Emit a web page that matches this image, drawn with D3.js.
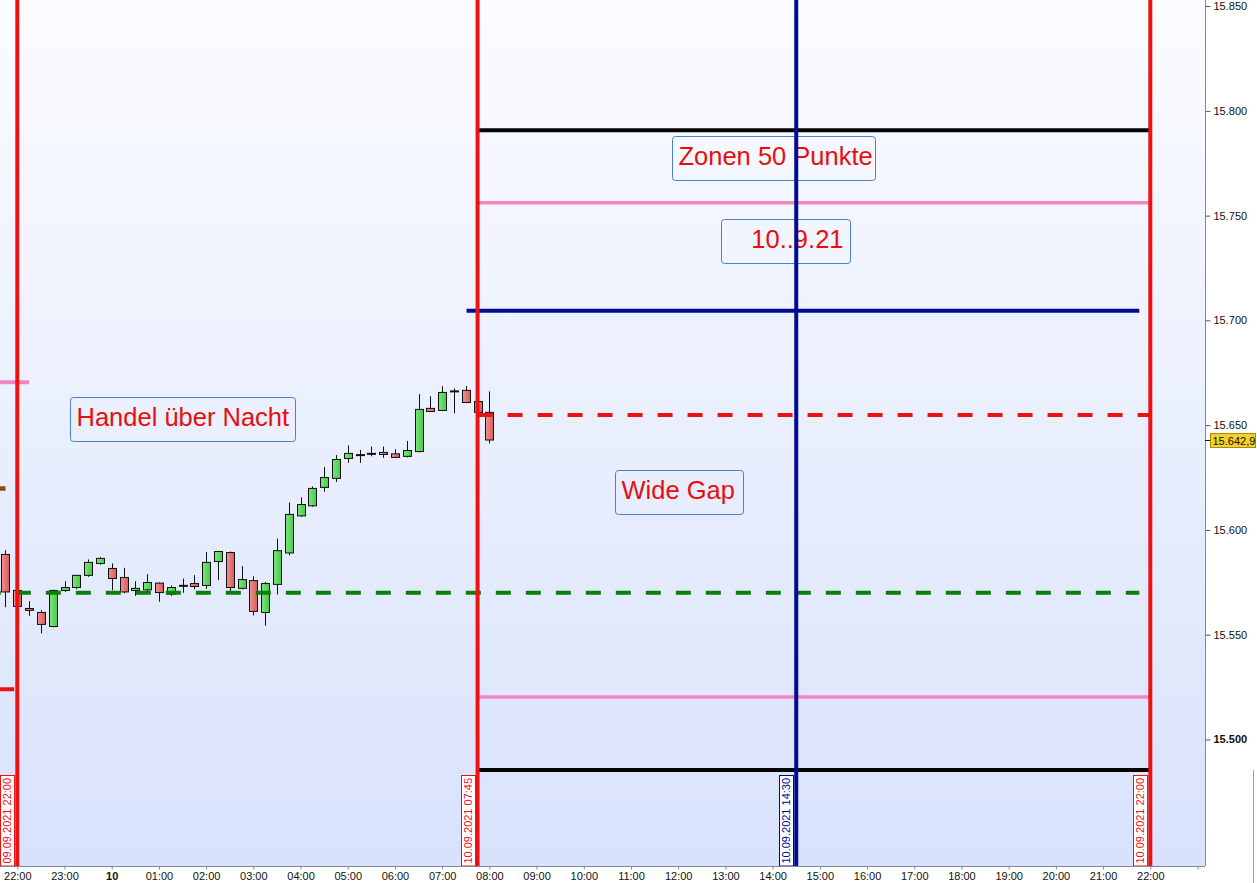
<!DOCTYPE html>
<html>
<head>
<meta charset="utf-8">
<script src="https://cdn.jsdelivr.net/npm/d3@7"></script>
<style>
	body { margin: 0; background: #fff; }
	svg { display: block; font-family: "Liberation Sans", Arial, sans-serif; }
</style>
</head>
<body>
<svg id="chart"></svg>
<script>
// 15 min candles, FDAX night session 09.09. -> 10.09.2021
const candleTimes = [
	"09.09.2021 21:45", "09.09.2021 22:00", "09.09.2021 22:15", "09.09.2021 22:30", "09.09.2021 22:45",
	"09.09.2021 23:00", "09.09.2021 23:15", "09.09.2021 23:30", "09.09.2021 23:45",
	"10.09.2021 00:00", "10.09.2021 00:15", "10.09.2021 00:30", "10.09.2021 00:45",
	"10.09.2021 01:00", "10.09.2021 01:15", "10.09.2021 01:30", "10.09.2021 01:45",
	"10.09.2021 02:00", "10.09.2021 02:15", "10.09.2021 02:30", "10.09.2021 02:45",
	"10.09.2021 03:00", "10.09.2021 03:15", "10.09.2021 03:30", "10.09.2021 03:45",
	"10.09.2021 04:00", "10.09.2021 04:15", "10.09.2021 04:30", "10.09.2021 04:45",
	"10.09.2021 05:00", "10.09.2021 05:15", "10.09.2021 05:30", "10.09.2021 05:45",
	"10.09.2021 06:00", "10.09.2021 06:15", "10.09.2021 06:30", "10.09.2021 06:45",
	"10.09.2021 07:00", "10.09.2021 07:15", "10.09.2021 07:30", "10.09.2021 07:45",
	"10.09.2021 08:00",
];
const opens = [
	15588.3, 15571.1, 15562.5, 15560.6, 15553.9, 15571.1, 15572.5, 15578.3, 15584.0,
	15581.6, 15577.3, 15571.1, 15571.4, 15574.6, 15569.3, 15573.3, 15574.4,
	15573.5, 15584.9, 15589.2, 15572.1, 15575.8, 15560.6, 15574.0, 15589.0,
	15606.7, 15611.5, 15620.3, 15624.6, 15634.1, 15635.7, 15636.3, 15637.0,
	15636.3, 15635.1, 15637.4, 15658.0, 15657.0, 15666.1, 15666.6, 15661.3,
	15656.1,
];
const highs = [
	15590.3, 15572.0, 15566.0, 15561.7, 15571.5, 15575.5, 15578.5, 15585.9, 15587.1,
	15584.0, 15581.9, 15575.5, 15578.9, 15575.0, 15573.5, 15576.8, 15578.4,
	15589.4, 15590.0, 15589.7, 15582.7, 15577.9, 15575.2, 15595.9, 15613.1,
	15615.6, 15620.7, 15630.0, 15635.7, 15640.3, 15638.1, 15639.8, 15639.8,
	15638.5, 15642.4, 15664.8, 15663.8, 15668.6, 15667.5, 15668.6, 15662.0,
	15666.1,
];
const lows = [
	15563.1, 15563.0, 15559.0, 15550.6, 15553.5, 15570.4, 15571.7, 15577.6, 15583.3,
	15571.2, 15569.7, 15568.5, 15570.4, 15565.7, 15568.5, 15570.0, 15571.6,
	15571.9, 15576.0, 15570.8, 15571.6, 15559.2, 15554.3, 15569.2, 15587.9,
	15606.2, 15611.0, 15618.2, 15622.9, 15632.0, 15632.0, 15635.1, 15634.4,
	15634.4, 15634.6, 15637.0, 15656.5, 15657.0, 15655.6, 15660.8, 15655.5,
	15641.3,
];
const closes = [
	15570.4, 15563.5, 15561.6, 15554.9, 15571.1, 15572.5, 15578.3, 15584.5, 15586.4,
	15576.8, 15570.4, 15572.1, 15574.9, 15570.1, 15572.5, 15573.3, 15573.0,
	15584.5, 15589.7, 15572.5, 15576.3, 15561.1, 15574.4, 15590.1, 15607.4,
	15612.1, 15619.8, 15625.0, 15633.6, 15636.5, 15635.7, 15636.3, 15636.0,
	15634.6, 15637.9, 15657.5, 15656.5, 15665.6, 15666.1, 15660.8, 15656.1,
	15642.9,
];
const lastPrice = 15642.9;

// horizontal levels
const levelPrices = [15790.7, 15756.1, 15704.6, 15654.9, 15570.0, 15520.2, 15485.4, 15670.5, 15619.8, 15524.0];
const levelFrom = [
	"10.09.2021 07:45", "10.09.2021 07:45", "10.09.2021 07:31", "10.09.2021 07:45", "09.09.2021 21:20",
	"10.09.2021 07:45", "10.09.2021 07:45", "09.09.2021 20:00", "09.09.2021 20:00", "09.09.2021 20:00",
];
const levelTo = [
	"10.09.2021 22:00", "10.09.2021 22:00", "10.09.2021 21:46", "10.09.2021 22:00", "10.09.2021 21:46",
	"10.09.2021 22:00", "10.09.2021 22:00", "09.09.2021 22:15", "09.09.2021 21:45", "09.09.2021 21:56",
];
const levelKinds = ["zone", "zoneInner", "blue", "gap", "close", "zoneInner", "zone", "oldPink", "oldBrown", "oldRed"];

// vertical time markers
const markerTimes = ["09.09.2021 22:00", "10.09.2021 07:45", "10.09.2021 14:30", "10.09.2021 22:00"];
const markerKinds = ["red", "red", "blue", "red"];

// text notes, anchored at top left of their box
const noteTexts = ["Zonen 50 Punkte", "10..9.21", "Handel über Nacht", "Wide Gap"];
const noteTimes = ["10.09.2021 11:52", "10.09.2021 12:54", "09.09.2021 23:07", "10.09.2021 10:40"];
const notePrices = [15788.0, 15748.5, 15663.3, 15628.6];

// axes
const priceTicks = [15500, 15550, 15600, 15650, 15700, 15750, 15800, 15850];
const timeTickLabels = [
	"22:00", "23:00", "10", "01:00", "02:00", "03:00", "04:00", "05:00", "06:00", "07:00",
	"08:00", "09:00", "10:00", "11:00", "12:00", "13:00", "14:00", "15:00", "16:00", "17:00",
	"18:00", "19:00", "20:00", "21:00", "22:00", "",
];

const size = { w: 1257, h: 883 };
const plot = { right: 1205, bottom: 866 };
const noteWidths = [203, 129, 225, 128];

const parseTime = d3.utcParse("%d.%m.%Y %H:%M");
const de = d3.formatLocale({ decimal: ",", thousands: ".", grouping: [3], currency: ["", " €"] });

const levelStyles = {
	zone: { color: "#050505", width: 4, dash: null },
	zoneInner: { color: "#f485c5", width: 3.5, dash: null },
	blue: { color: "#000c8f", width: 4, dash: null },
	gap: { color: "#ee1111", width: 4, dash: "15,15" },
	close: { color: "#0a800a", width: 4, dash: "15,15" },
	oldPink: { color: "#f485c5", width: 4, dash: null },
	oldBrown: { color: "#8a4a12", width: 4.5, dash: null },
	oldRed: { color: "#ee1111", width: 4, dash: null },
};
const markerColors = { red: "#ee1111", blue: "#000c8f" };

function CandleChart() {
	this._data = null;
	this._sel = null;

	this.data = function () {
		if (arguments.length > 0) {
			this._data = arguments[0];
			return this;
		}
		return this._data;
	};

	this.selection = function () {
		if (arguments.length > 0) {
			this._sel = arguments[0];
			return this;
		}
		return this._sel;
	};

	this.draw = function () {
		let xScale = d3
			.scaleUtc()
			.domain([parseTime("09.09.2021 22:00"), parseTime("10.09.2021 22:00")])
			.range([17.3, 1150.3]);

		let yScale = d3
			.scaleLinear()
			.domain([15439.6, 15852.9])
			.range([plot.bottom, 0]);

		this._drawBackground();
		this._drawCandles(xScale, yScale);
		this._drawLevels(xScale, yScale);
		this._drawNotes(xScale, yScale);
		this._drawMarkers(xScale);
		this._drawAxes(xScale, yScale);
	};

	this._drawBackground = function () {
		let defs = this._sel.append("defs");

		let bg = defs.append("linearGradient").attr("id", "bg").attr("x1", 0).attr("y1", 0).attr("x2", 0).attr("y2", 1);
		bg.append("stop").attr("offset", 0).attr("stop-color", "#fbfcff");
		bg.append("stop").attr("offset", 1).attr("stop-color", "#d8e2fb");

		let up = defs.append("linearGradient").attr("id", "up");
		up.append("stop").attr("offset", 0).attr("stop-color", "#7fe47f");
		up.append("stop").attr("offset", 1).attr("stop-color", "#45cc45");

		let down = defs.append("linearGradient").attr("id", "down");
		down.append("stop").attr("offset", 0).attr("stop-color", "#ef9393");
		down.append("stop").attr("offset", 1).attr("stop-color", "#d95a5a");

		this._sel
			.append("rect")
			.attr("width", plot.right)
			.attr("height", plot.bottom)
			.attr("fill", "url(#bg)");
	};

	this._drawCandles = function (xScale, yScale) {
		let g = this._sel.append("g").classed("candles", true);

		let candles = g
			.selectAll("g")
			.data(this._data)
			.join("g")
			.attr("transform", (d) => `translate(${Math.round(xScale(d.time)) + 0.5}, 0)`);

		candles
			.append("line")
			.attr("y1", (d) => yScale(d.high))
			.attr("y2", (d) => yScale(d.low))
			.attr("stroke", "#111")
			.attr("stroke-width", 1);

		candles
			.filter((d) => Math.abs(d.open - d.close) >= 0.3)
			.append("rect")
			.attr("x", -4)
			.attr("y", (d) => yScale(Math.max(d.open, d.close)))
			.attr("width", 8)
			.attr("height", (d) => Math.abs(yScale(d.open) - yScale(d.close)))
			.attr("fill", (d) => (d.close > d.open ? "url(#up)" : "url(#down)"))
			.attr("stroke", "#111")
			.attr("stroke-width", 1);

		candles
			.filter((d) => Math.abs(d.open - d.close) < 0.3)
			.append("line")
			.attr("x1", -4.5)
			.attr("x2", 4.5)
			.attr("y1", (d) => yScale(d.close))
			.attr("y2", (d) => yScale(d.close))
			.attr("stroke", "#111")
			.attr("stroke-width", 2);
	};

	this._drawLevels = function (xScale, yScale) {
		let rows = levelPrices.map((p, i) => ({
			price: p,
			from: parseTime(levelFrom[i]),
			to: parseTime(levelTo[i]),
			style: levelStyles[levelKinds[i]],
		}));

		this._sel
			.append("g")
			.classed("levels", true)
			.selectAll("line")
			.data(rows)
			.join("line")
			.attr("x1", (d) => xScale(d.from))
			.attr("x2", (d) => xScale(d.to))
			.attr("y1", (d) => yScale(d.price))
			.attr("y2", (d) => yScale(d.price))
			.attr("stroke", (d) => d.style.color)
			.attr("stroke-width", (d) => d.style.width)
			.attr("stroke-dasharray", (d) => d.style.dash);
	};

	this._drawNotes = function (xScale, yScale) {
		let rows = noteTexts.map((t, i) => ({
			text: t,
			x: xScale(parseTime(noteTimes[i])),
			y: yScale(notePrices[i]),
			w: noteWidths[i],
		}));

		let notes = this._sel
			.append("g")
			.classed("notes", true)
			.selectAll("g")
			.data(rows)
			.join("g")
			.attr("transform", (d) => `translate(${Math.round(d.x) + 0.5}, ${Math.round(d.y) + 0.5})`);

		notes
			.append("rect")
			.attr("width", (d) => d.w)
			.attr("height", 44)
			.attr("rx", 3)
			.attr("fill", "none")
			.attr("stroke", "#4b7fd0")
			.attr("stroke-width", 1);

		// the date note sits right aligned in its box
		notes
			.append("text")
			.attr("x", (d) => (d.text === "10..9.21" ? d.w - 7 : 6))
			.attr("y", 28.5)
			.attr("text-anchor", (d) => (d.text === "10..9.21" ? "end" : "start"))
			.attr("font-size", 25.5)
			.attr("fill", "#e80e0e")
			.text((d) => d.text);
	};

	this._drawMarkers = function (xScale) {
		let rows = markerTimes.map((t, i) => ({
			label: t,
			x: xScale(parseTime(t)),
			color: markerColors[markerKinds[i]],
		}));

		let g = this._sel.append("g").classed("markers", true);

		g.selectAll("line")
			.data(rows)
			.join("line")
			.attr("x1", (d) => d.x)
			.attr("x2", (d) => d.x)
			.attr("y1", 0)
			.attr("y2", plot.bottom)
			.attr("stroke", (d) => d.color)
			.attr("stroke-width", 4);

		let tags = g
			.selectAll("g")
			.data(rows)
			.join("g")
			.attr("transform", (d) => `translate(${Math.round(d.x) - 16.5}, 775.5)`);

		tags.append("rect")
			.attr("width", 14)
			.attr("height", plot.bottom - 775.5)
			.attr("fill", "#fff")
			.attr("stroke", (d) => d.color)
			.attr("stroke-width", 1);

		tags.append("text")
			.attr("transform", `translate(7, ${(plot.bottom - 775.5) / 2}) rotate(-90)`)
			.attr("text-anchor", "middle")
			.attr("dy", "0.36em")
			.attr("font-size", 11)
			.attr("fill", (d) => d.color)
			.text((d) => d.label);
	};

	this._drawAxes = function (xScale, yScale) {
		// frame
		this._sel
			.append("line")
			.attr("x1", 0)
			.attr("x2", plot.right)
			.attr("y1", plot.bottom + 0.5)
			.attr("y2", plot.bottom + 0.5)
			.attr("stroke", "#7f8b99");
		this._sel
			.append("line")
			.attr("x1", plot.right + 0.5)
			.attr("x2", plot.right + 0.5)
			.attr("y1", 0)
			.attr("y2", plot.bottom)
			.attr("stroke", "#7f8b99");
		this._sel
			.append("line")
			.attr("x1", 1253.5)
			.attr("x2", 1253.5)
			.attr("y1", 770)
			.attr("y2", size.h)
			.attr("stroke", "#9aa3ad");

		let hours = d3.utcHour.range(parseTime("09.09.2021 22:00"), parseTime("10.09.2021 23:01"));

		let xAxisG = this._sel
			.append("g")
			.attr("transform", `translate(0, ${plot.bottom + 0.5})`)
			.call(
				d3
					.axisBottom(xScale)
					.tickValues(hours)
					.tickFormat((d, i) => timeTickLabels[i])
					.tickSize(3)
					.tickPadding(3)
			);
		xAxisG.select(".domain").remove();
		xAxisG.selectAll("line").attr("stroke", "#7f8b99");
		xAxisG
			.selectAll("text")
			.attr("font-family", "Liberation Sans, Arial, sans-serif")
			.attr("font-size", 11)
			.attr("font-weight", (d, i) => (timeTickLabels[i] === "10" ? "bold" : "normal"))
			.attr("fill", "#111");

		let yAxisG = this._sel
			.append("g")
			.attr("transform", `translate(${plot.right + 0.5}, 0)`)
			.call(
				d3
					.axisRight(yScale)
					.tickValues(priceTicks)
					.tickFormat(de.format(",.0f"))
					.tickSize(5)
					.tickPadding(3)
			);
		yAxisG.select(".domain").remove();
		yAxisG.selectAll("line").attr("stroke", "#555");
		yAxisG
			.selectAll("text")
			.attr("font-family", "Liberation Sans, Arial, sans-serif")
			.attr("font-size", 11)
			.attr("font-weight", (d) => (d % 500 === 0 ? "bold" : "normal"))
			.attr("fill", "#111");

		// last price tag
		let yl = Math.round(yScale(lastPrice));
		let tag = this._sel.append("g").attr("transform", `translate(${plot.right}, ${yl})`);
		tag.append("line").attr("x1", 0).attr("x2", 6).attr("y1", 0.5).attr("y2", 0.5).attr("stroke", "#111");
		tag.append("rect")
			.attr("x", 5.5)
			.attr("y", -6.5)
			.attr("width", 45)
			.attr("height", 14)
			.attr("fill", "#f5d02c")
			.attr("stroke", "#a98b08");
		tag.append("text")
			.attr("x", 7.5)
			.attr("y", 4.5)
			.attr("font-size", 11)
			.attr("fill", "#111")
			.text(de.format(",.1f")(lastPrice));
	};

	return this;
}

let svg = d3.select("#chart").attr("width", size.w).attr("height", size.h);

let candleData = candleTimes.map((t, i) => ({
	time: parseTime(t),
	open: opens[i],
	high: highs[i],
	low: lows[i],
	close: closes[i],
}));

new CandleChart().selection(svg).data(candleData).draw();
</script>
</body>
</html>
